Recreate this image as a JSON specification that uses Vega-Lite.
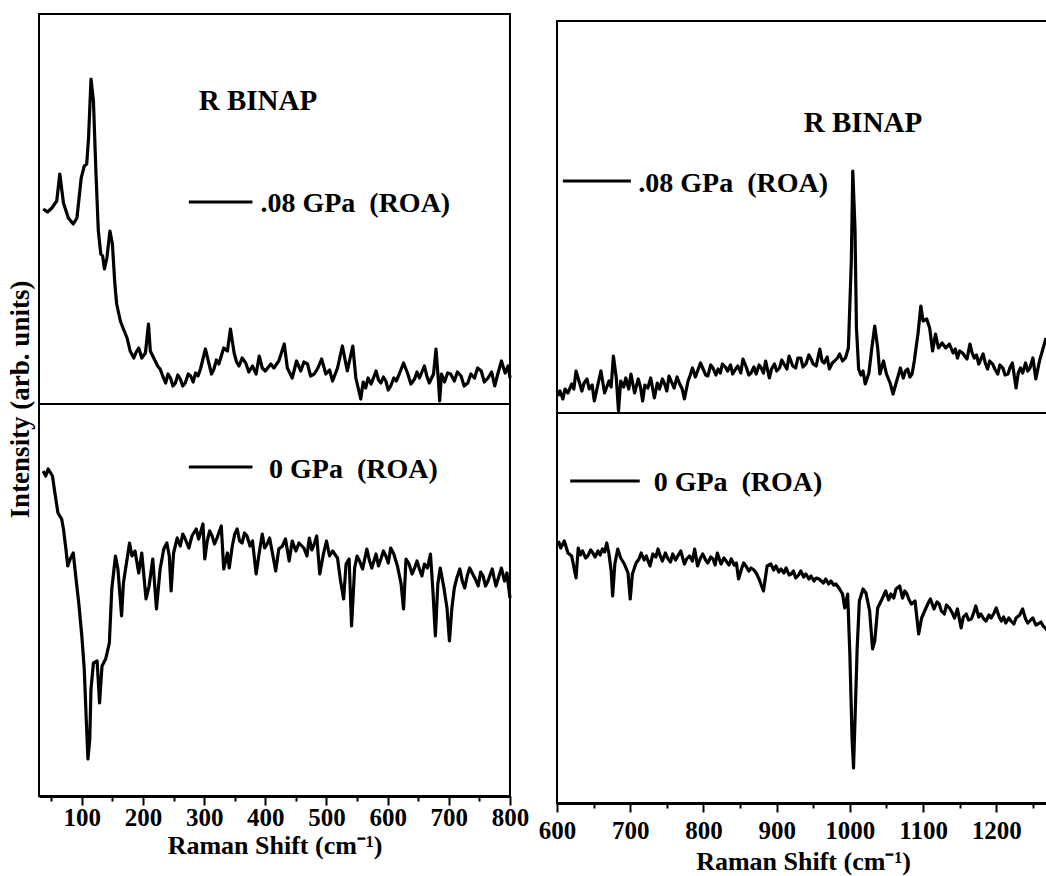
{
  "$schema": "https://vega.github.io/schema/vega-lite/v6.json",
  "background": "white",
  "padding": {"left": 5, "top": 13, "right": 0, "bottom": 0},
  "autosize": {"type": "pad"},
  "config": {"view": {"stroke": "black", "strokeWidth": 2}},
  "datasets": {
    "spectra": [
      {"p":"LT","x":37,"y":195},{"p":"LT","x":44,"y":192},{"p":"LT","x":51,"y":196},{"p":"LT","x":59,"y":203},{"p":"LT","x":64,"y":230},{"p":"LT","x":70,"y":201},{"p":"LT","x":78,"y":186},{"p":"LT","x":86,"y":180},{"p":"LT","x":92,"y":186},{"p":"LT","x":99,"y":226},{"p":"LT","x":104,"y":238},{"p":"LT","x":108,"y":240},{"p":"LT","x":111,"y":266},{"p":"LT","x":115,"y":325},{"p":"LT","x":119,"y":303},{"p":"LT","x":123,"y":233},{"p":"LT","x":127,"y":173},{"p":"LT","x":131,"y":150},{"p":"LT","x":134,"y":148},{"p":"LT","x":137,"y":135},{"p":"LT","x":141,"y":146},{"p":"LT","x":146,"y":173},{"p":"LT","x":150,"y":160},{"p":"LT","x":154,"y":120},{"p":"LT","x":157,"y":100},{"p":"LT","x":163,"y":83},{"p":"LT","x":168,"y":75},{"p":"LT","x":174,"y":66},{"p":"LT","x":179,"y":53},{"p":"LT","x":185,"y":46},{"p":"LT","x":189,"y":52},{"p":"LT","x":193,"y":56},{"p":"LT","x":198,"y":46},{"p":"LT","x":204,"y":51},{"p":"LT","x":209,"y":80},{"p":"LT","x":212,"y":53},{"p":"LT","x":216,"y":48},{"p":"LT","x":220,"y":43},{"p":"LT","x":224,"y":38},{"p":"LT","x":228,"y":35},{"p":"LT","x":233,"y":27},{"p":"LT","x":237,"y":21},{"p":"LT","x":241,"y":30},{"p":"LT","x":245,"y":26},{"p":"LT","x":249,"y":18},{"p":"LT","x":253,"y":21},{"p":"LT","x":257,"y":29},{"p":"LT","x":261,"y":25},{"p":"LT","x":265,"y":18},{"p":"LT","x":269,"y":21},{"p":"LT","x":274,"y":30},{"p":"LT","x":278,"y":28},{"p":"LT","x":282,"y":22},{"p":"LT","x":286,"y":31},{"p":"LT","x":290,"y":28},{"p":"LT","x":294,"y":35},{"p":"LT","x":302,"y":55},{"p":"LT","x":308,"y":40},{"p":"LT","x":312,"y":30},{"p":"LT","x":316,"y":35},{"p":"LT","x":320,"y":44},{"p":"LT","x":324,"y":40},{"p":"LT","x":332,"y":56},{"p":"LT","x":338,"y":53},{"p":"LT","x":343,"y":75},{"p":"LT","x":349,"y":51},{"p":"LT","x":353,"y":42},{"p":"LT","x":357,"y":38},{"p":"LT","x":362,"y":46},{"p":"LT","x":368,"y":41},{"p":"LT","x":373,"y":32},{"p":"LT","x":379,"y":38},{"p":"LT","x":385,"y":30},{"p":"LT","x":390,"y":48},{"p":"LT","x":395,"y":36},{"p":"LT","x":400,"y":33},{"p":"LT","x":409,"y":40},{"p":"LT","x":414,"y":36},{"p":"LT","x":422,"y":43},{"p":"LT","x":431,"y":60},{"p":"LT","x":436,"y":36},{"p":"LT","x":444,"y":26},{"p":"LT","x":451,"y":43},{"p":"LT","x":458,"y":33},{"p":"LT","x":463,"y":42},{"p":"LT","x":469,"y":40},{"p":"LT","x":474,"y":28},{"p":"LT","x":480,"y":30},{"p":"LT","x":486,"y":36},{"p":"LT","x":492,"y":45},{"p":"LT","x":499,"y":30},{"p":"LT","x":505,"y":34},{"p":"LT","x":510,"y":23},{"p":"LT","x":518,"y":36},{"p":"LT","x":526,"y":58},{"p":"LT","x":534,"y":33},{"p":"LT","x":543,"y":58},{"p":"LT","x":548,"y":26},{"p":"LT","x":556,"y":5},{"p":"LT","x":560,"y":22},{"p":"LT","x":564,"y":16},{"p":"LT","x":568,"y":26},{"p":"LT","x":573,"y":20},{"p":"LT","x":581,"y":33},{"p":"LT","x":585,"y":24},{"p":"LT","x":589,"y":21},{"p":"LT","x":593,"y":27},{"p":"LT","x":597,"y":23},{"p":"LT","x":601,"y":14},{"p":"LT","x":605,"y":18},{"p":"LT","x":610,"y":26},{"p":"LT","x":614,"y":23},{"p":"LT","x":619,"y":30},{"p":"LT","x":626,"y":41},{"p":"LT","x":633,"y":30},{"p":"LT","x":638,"y":20},{"p":"LT","x":644,"y":25},{"p":"LT","x":648,"y":32},{"p":"LT","x":652,"y":26},{"p":"LT","x":660,"y":38},{"p":"LT","x":664,"y":28},{"p":"LT","x":668,"y":21},{"p":"LT","x":675,"y":30},{"p":"LT","x":679,"y":55},{"p":"LT","x":683,"y":23},{"p":"LT","x":685,"y":3},{"p":"LT","x":688,"y":30},{"p":"LT","x":693,"y":22},{"p":"LT","x":698,"y":31},{"p":"LT","x":703,"y":30},{"p":"LT","x":709,"y":23},{"p":"LT","x":714,"y":32},{"p":"LT","x":720,"y":28},{"p":"LT","x":725,"y":18},{"p":"LT","x":731,"y":21},{"p":"LT","x":736,"y":30},{"p":"LT","x":742,"y":26},{"p":"LT","x":747,"y":36},{"p":"LT","x":753,"y":33},{"p":"LT","x":758,"y":22},{"p":"LT","x":764,"y":26},{"p":"LT","x":770,"y":32},{"p":"LT","x":775,"y":18},{"p":"LT","x":780,"y":30},{"p":"LT","x":786,"y":43},{"p":"LT","x":792,"y":31},{"p":"LT","x":797,"y":38},{"p":"LT","x":800,"y":26},

      {"p":"LB","x":37,"y":325},{"p":"LB","x":41,"y":320},{"p":"LB","x":45,"y":327},{"p":"LB","x":52,"y":320},{"p":"LB","x":56,"y":303},{"p":"LB","x":61,"y":283},{"p":"LB","x":67,"y":277},{"p":"LB","x":70,"y":267},{"p":"LB","x":74,"y":247},{"p":"LB","x":77,"y":230},{"p":"LB","x":81,"y":237},{"p":"LB","x":86,"y":243},{"p":"LB","x":90,"y":220},{"p":"LB","x":95,"y":193},{"p":"LB","x":100,"y":160},{"p":"LB","x":104,"y":127},{"p":"LB","x":107,"y":80},{"p":"LB","x":110,"y":37},{"p":"LB","x":113,"y":57},{"p":"LB","x":115,"y":107},{"p":"LB","x":119,"y":133},{"p":"LB","x":125,"y":135},{"p":"LB","x":129,"y":93},{"p":"LB","x":133,"y":130},{"p":"LB","x":139,"y":137},{"p":"LB","x":145,"y":153},{"p":"LB","x":149,"y":207},{"p":"LB","x":155,"y":240},{"p":"LB","x":159,"y":227},{"p":"LB","x":165,"y":180},{"p":"LB","x":168,"y":213},{"p":"LB","x":174,"y":237},{"p":"LB","x":178,"y":253},{"p":"LB","x":182,"y":240},{"p":"LB","x":187,"y":245},{"p":"LB","x":193,"y":223},{"p":"LB","x":198,"y":243},{"p":"LB","x":205,"y":197},{"p":"LB","x":210,"y":210},{"p":"LB","x":216,"y":237},{"p":"LB","x":222,"y":187},{"p":"LB","x":228,"y":227},{"p":"LB","x":234,"y":247},{"p":"LB","x":239,"y":253},{"p":"LB","x":243,"y":240},{"p":"LB","x":246,"y":205},{"p":"LB","x":250,"y":243},{"p":"LB","x":256,"y":258},{"p":"LB","x":261,"y":250},{"p":"LB","x":265,"y":262},{"p":"LB","x":269,"y":257},{"p":"LB","x":275,"y":248},{"p":"LB","x":280,"y":260},{"p":"LB","x":287,"y":267},{"p":"LB","x":291,"y":257},{"p":"LB","x":298,"y":272},{"p":"LB","x":301,"y":237},{"p":"LB","x":305,"y":255},{"p":"LB","x":309,"y":265},{"p":"LB","x":313,"y":260},{"p":"LB","x":317,"y":252},{"p":"LB","x":321,"y":258},{"p":"LB","x":328,"y":270},{"p":"LB","x":332,"y":227},{"p":"LB","x":338,"y":243},{"p":"LB","x":341,"y":228},{"p":"LB","x":346,"y":250},{"p":"LB","x":350,"y":262},{"p":"LB","x":354,"y":267},{"p":"LB","x":358,"y":255},{"p":"LB","x":362,"y":253},{"p":"LB","x":366,"y":263},{"p":"LB","x":370,"y":260},{"p":"LB","x":375,"y":250},{"p":"LB","x":379,"y":255},{"p":"LB","x":385,"y":222},{"p":"LB","x":390,"y":243},{"p":"LB","x":395,"y":262},{"p":"LB","x":399,"y":248},{"p":"LB","x":403,"y":252},{"p":"LB","x":407,"y":258},{"p":"LB","x":411,"y":245},{"p":"LB","x":417,"y":225},{"p":"LB","x":422,"y":247},{"p":"LB","x":428,"y":250},{"p":"LB","x":433,"y":257},{"p":"LB","x":439,"y":235},{"p":"LB","x":444,"y":255},{"p":"LB","x":450,"y":245},{"p":"LB","x":455,"y":253},{"p":"LB","x":463,"y":248},{"p":"LB","x":468,"y":240},{"p":"LB","x":472,"y":258},{"p":"LB","x":476,"y":246},{"p":"LB","x":480,"y":252},{"p":"LB","x":484,"y":260},{"p":"LB","x":489,"y":222},{"p":"LB","x":495,"y":242},{"p":"LB","x":500,"y":255},{"p":"LB","x":505,"y":240},{"p":"LB","x":510,"y":245},{"p":"LB","x":518,"y":238},{"p":"LB","x":523,"y":215},{"p":"LB","x":528,"y":197},{"p":"LB","x":532,"y":232},{"p":"LB","x":537,"y":237},{"p":"LB","x":541,"y":170},{"p":"LB","x":546,"y":228},{"p":"LB","x":550,"y":240},{"p":"LB","x":554,"y":235},{"p":"LB","x":559,"y":227},{"p":"LB","x":566,"y":247},{"p":"LB","x":570,"y":236},{"p":"LB","x":574,"y":228},{"p":"LB","x":581,"y":242},{"p":"LB","x":585,"y":230},{"p":"LB","x":589,"y":237},{"p":"LB","x":593,"y":245},{"p":"LB","x":597,"y":240},{"p":"LB","x":601,"y":233},{"p":"LB","x":605,"y":248},{"p":"LB","x":610,"y":242},{"p":"LB","x":616,"y":230},{"p":"LB","x":622,"y":212},{"p":"LB","x":626,"y":187},{"p":"LB","x":630,"y":237},{"p":"LB","x":635,"y":232},{"p":"LB","x":640,"y":222},{"p":"LB","x":644,"y":228},{"p":"LB","x":648,"y":235},{"p":"LB","x":652,"y":227},{"p":"LB","x":656,"y":220},{"p":"LB","x":660,"y":232},{"p":"LB","x":665,"y":228},{"p":"LB","x":670,"y":242},{"p":"LB","x":674,"y":205},{"p":"LB","x":678,"y":160},{"p":"LB","x":682,"y":212},{"p":"LB","x":686,"y":228},{"p":"LB","x":692,"y":208},{"p":"LB","x":697,"y":188},{"p":"LB","x":701,"y":155},{"p":"LB","x":705,"y":188},{"p":"LB","x":709,"y":208},{"p":"LB","x":713,"y":218},{"p":"LB","x":718,"y":227},{"p":"LB","x":722,"y":215},{"p":"LB","x":726,"y":208},{"p":"LB","x":730,"y":220},{"p":"LB","x":734,"y":228},{"p":"LB","x":739,"y":222},{"p":"LB","x":744,"y":216},{"p":"LB","x":748,"y":210},{"p":"LB","x":752,"y":224},{"p":"LB","x":756,"y":220},{"p":"LB","x":760,"y":210},{"p":"LB","x":764,"y":215},{"p":"LB","x":768,"y":222},{"p":"LB","x":771,"y":227},{"p":"LB","x":774,"y":218},{"p":"LB","x":777,"y":210},{"p":"LB","x":782,"y":220},{"p":"LB","x":786,"y":228},{"p":"LB","x":791,"y":215},{"p":"LB","x":795,"y":223},{"p":"LB","x":800,"y":198},

      {"p":"RT","x":601,"y":17},{"p":"RT","x":604,"y":22},{"p":"RT","x":608,"y":14},{"p":"RT","x":611,"y":24},{"p":"RT","x":615,"y":20},{"p":"RT","x":620,"y":29},{"p":"RT","x":623,"y":24},{"p":"RT","x":626,"y":42},{"p":"RT","x":630,"y":32},{"p":"RT","x":634,"y":22},{"p":"RT","x":637,"y":30},{"p":"RT","x":641,"y":34},{"p":"RT","x":644,"y":24},{"p":"RT","x":648,"y":28},{"p":"RT","x":651,"y":12},{"p":"RT","x":656,"y":29},{"p":"RT","x":660,"y":42},{"p":"RT","x":665,"y":20},{"p":"RT","x":671,"y":32},{"p":"RT","x":674,"y":26},{"p":"RT","x":677,"y":57},{"p":"RT","x":681,"y":35},{"p":"RT","x":684,"y":2},{"p":"RT","x":687,"y":32},{"p":"RT","x":691,"y":26},{"p":"RT","x":694,"y":35},{"p":"RT","x":698,"y":24},{"p":"RT","x":701,"y":39},{"p":"RT","x":706,"y":20},{"p":"RT","x":711,"y":34},{"p":"RT","x":714,"y":26},{"p":"RT","x":717,"y":12},{"p":"RT","x":720,"y":28},{"p":"RT","x":724,"y":25},{"p":"RT","x":728,"y":35},{"p":"RT","x":733,"y":15},{"p":"RT","x":737,"y":30},{"p":"RT","x":740,"y":24},{"p":"RT","x":744,"y":34},{"p":"RT","x":747,"y":29},{"p":"RT","x":750,"y":22},{"p":"RT","x":753,"y":37},{"p":"RT","x":757,"y":30},{"p":"RT","x":760,"y":25},{"p":"RT","x":764,"y":36},{"p":"RT","x":767,"y":30},{"p":"RT","x":771,"y":24},{"p":"RT","x":774,"y":14},{"p":"RT","x":779,"y":32},{"p":"RT","x":782,"y":38},{"p":"RT","x":785,"y":45},{"p":"RT","x":789,"y":36},{"p":"RT","x":792,"y":42},{"p":"RT","x":796,"y":50},{"p":"RT","x":799,"y":45},{"p":"RT","x":803,"y":38},{"p":"RT","x":806,"y":37},{"p":"RT","x":810,"y":48},{"p":"RT","x":813,"y":45},{"p":"RT","x":817,"y":38},{"p":"RT","x":820,"y":44},{"p":"RT","x":823,"y":40},{"p":"RT","x":826,"y":49},{"p":"RT","x":830,"y":46},{"p":"RT","x":833,"y":42},{"p":"RT","x":837,"y":48},{"p":"RT","x":840,"y":39},{"p":"RT","x":844,"y":44},{"p":"RT","x":847,"y":47},{"p":"RT","x":851,"y":40},{"p":"RT","x":854,"y":54},{"p":"RT","x":858,"y":47},{"p":"RT","x":862,"y":38},{"p":"RT","x":865,"y":40},{"p":"RT","x":869,"y":46},{"p":"RT","x":872,"y":39},{"p":"RT","x":876,"y":48},{"p":"RT","x":879,"y":45},{"p":"RT","x":882,"y":40},{"p":"RT","x":885,"y":52},{"p":"RT","x":890,"y":35},{"p":"RT","x":893,"y":44},{"p":"RT","x":897,"y":49},{"p":"RT","x":900,"y":42},{"p":"RT","x":904,"y":45},{"p":"RT","x":907,"y":53},{"p":"RT","x":910,"y":49},{"p":"RT","x":914,"y":44},{"p":"RT","x":917,"y":57},{"p":"RT","x":922,"y":47},{"p":"RT","x":926,"y":45},{"p":"RT","x":929,"y":55},{"p":"RT","x":933,"y":55},{"p":"RT","x":936,"y":46},{"p":"RT","x":940,"y":49},{"p":"RT","x":944,"y":58},{"p":"RT","x":947,"y":54},{"p":"RT","x":950,"y":49},{"p":"RT","x":954,"y":47},{"p":"RT","x":959,"y":64},{"p":"RT","x":962,"y":52},{"p":"RT","x":965,"y":50},{"p":"RT","x":969,"y":56},{"p":"RT","x":972,"y":44},{"p":"RT","x":976,"y":50},{"p":"RT","x":979,"y":52},{"p":"RT","x":983,"y":55},{"p":"RT","x":986,"y":59},{"p":"RT","x":990,"y":52},{"p":"RT","x":994,"y":55},{"p":"RT","x":998,"y":65},{"p":"RT","x":1002,"y":152},{"p":"RT","x":1004,"y":242},{"p":"RT","x":1007,"y":185},{"p":"RT","x":1009,"y":85},{"p":"RT","x":1012,"y":44},{"p":"RT","x":1015,"y":38},{"p":"RT","x":1018,"y":42},{"p":"RT","x":1021,"y":29},{"p":"RT","x":1026,"y":40},{"p":"RT","x":1030,"y":65},{"p":"RT","x":1034,"y":87},{"p":"RT","x":1038,"y":65},{"p":"RT","x":1041,"y":39},{"p":"RT","x":1046,"y":52},{"p":"RT","x":1050,"y":39},{"p":"RT","x":1055,"y":30},{"p":"RT","x":1059,"y":19},{"p":"RT","x":1064,"y":32},{"p":"RT","x":1069,"y":45},{"p":"RT","x":1073,"y":35},{"p":"RT","x":1076,"y":42},{"p":"RT","x":1079,"y":44},{"p":"RT","x":1082,"y":36},{"p":"RT","x":1085,"y":39},{"p":"RT","x":1088,"y":52},{"p":"RT","x":1093,"y":79},{"p":"RT","x":1097,"y":107},{"p":"RT","x":1100,"y":92},{"p":"RT","x":1105,"y":94},{"p":"RT","x":1109,"y":85},{"p":"RT","x":1113,"y":62},{"p":"RT","x":1117,"y":79},{"p":"RT","x":1121,"y":65},{"p":"RT","x":1126,"y":70},{"p":"RT","x":1131,"y":65},{"p":"RT","x":1136,"y":69},{"p":"RT","x":1141,"y":60},{"p":"RT","x":1144,"y":64},{"p":"RT","x":1147,"y":55},{"p":"RT","x":1150,"y":62},{"p":"RT","x":1154,"y":60},{"p":"RT","x":1160,"y":54},{"p":"RT","x":1164,"y":69},{"p":"RT","x":1167,"y":60},{"p":"RT","x":1170,"y":55},{"p":"RT","x":1173,"y":58},{"p":"RT","x":1176,"y":49},{"p":"RT","x":1179,"y":54},{"p":"RT","x":1182,"y":59},{"p":"RT","x":1185,"y":50},{"p":"RT","x":1188,"y":44},{"p":"RT","x":1191,"y":52},{"p":"RT","x":1195,"y":49},{"p":"RT","x":1198,"y":44},{"p":"RT","x":1202,"y":39},{"p":"RT","x":1205,"y":48},{"p":"RT","x":1209,"y":45},{"p":"RT","x":1212,"y":38},{"p":"RT","x":1216,"y":39},{"p":"RT","x":1219,"y":46},{"p":"RT","x":1222,"y":50},{"p":"RT","x":1227,"y":25},{"p":"RT","x":1230,"y":40},{"p":"RT","x":1233,"y":45},{"p":"RT","x":1236,"y":40},{"p":"RT","x":1240,"y":50},{"p":"RT","x":1243,"y":42},{"p":"RT","x":1246,"y":45},{"p":"RT","x":1250,"y":55},{"p":"RT","x":1254,"y":34},{"p":"RT","x":1259,"y":52},{"p":"RT","x":1264,"y":65},{"p":"RT","x":1268,"y":75},

      {"p":"RB","x":602,"y":262},{"p":"RB","x":605,"y":255},{"p":"RB","x":610,"y":262},{"p":"RB","x":615,"y":250},{"p":"RB","x":620,"y":247},{"p":"RB","x":626,"y":225},{"p":"RB","x":629,"y":255},{"p":"RB","x":632,"y":248},{"p":"RB","x":635,"y":252},{"p":"RB","x":639,"y":245},{"p":"RB","x":642,"y":247},{"p":"RB","x":646,"y":253},{"p":"RB","x":649,"y":250},{"p":"RB","x":652,"y":246},{"p":"RB","x":656,"y":252},{"p":"RB","x":659,"y":248},{"p":"RB","x":662,"y":254},{"p":"RB","x":665,"y":251},{"p":"RB","x":668,"y":260},{"p":"RB","x":671,"y":249},{"p":"RB","x":674,"y":232},{"p":"RB","x":676,"y":207},{"p":"RB","x":679,"y":239},{"p":"RB","x":683,"y":254},{"p":"RB","x":687,"y":245},{"p":"RB","x":692,"y":239},{"p":"RB","x":697,"y":230},{"p":"RB","x":700,"y":204},{"p":"RB","x":703,"y":229},{"p":"RB","x":708,"y":240},{"p":"RB","x":712,"y":244},{"p":"RB","x":715,"y":250},{"p":"RB","x":719,"y":243},{"p":"RB","x":722,"y":247},{"p":"RB","x":727,"y":237},{"p":"RB","x":731,"y":249},{"p":"RB","x":735,"y":246},{"p":"RB","x":738,"y":254},{"p":"RB","x":741,"y":247},{"p":"RB","x":744,"y":242},{"p":"RB","x":748,"y":250},{"p":"RB","x":751,"y":245},{"p":"RB","x":755,"y":241},{"p":"RB","x":758,"y":249},{"p":"RB","x":762,"y":243},{"p":"RB","x":765,"y":247},{"p":"RB","x":769,"y":252},{"p":"RB","x":774,"y":239},{"p":"RB","x":777,"y":244},{"p":"RB","x":781,"y":247},{"p":"RB","x":785,"y":242},{"p":"RB","x":788,"y":254},{"p":"RB","x":792,"y":237},{"p":"RB","x":796,"y":245},{"p":"RB","x":799,"y":249},{"p":"RB","x":803,"y":243},{"p":"RB","x":806,"y":240},{"p":"RB","x":810,"y":246},{"p":"RB","x":813,"y":244},{"p":"RB","x":816,"y":238},{"p":"RB","x":819,"y":250},{"p":"RB","x":824,"y":239},{"p":"RB","x":828,"y":245},{"p":"RB","x":831,"y":242},{"p":"RB","x":835,"y":238},{"p":"RB","x":838,"y":244},{"p":"RB","x":842,"y":238},{"p":"RB","x":845,"y":240},{"p":"RB","x":848,"y":224},{"p":"RB","x":852,"y":234},{"p":"RB","x":855,"y":240},{"p":"RB","x":858,"y":237},{"p":"RB","x":862,"y":232},{"p":"RB","x":865,"y":235},{"p":"RB","x":869,"y":233},{"p":"RB","x":872,"y":230},{"p":"RB","x":876,"y":224},{"p":"RB","x":882,"y":212},{"p":"RB","x":887,"y":237},{"p":"RB","x":892,"y":239},{"p":"RB","x":896,"y":233},{"p":"RB","x":899,"y":237},{"p":"RB","x":903,"y":231},{"p":"RB","x":906,"y":234},{"p":"RB","x":910,"y":230},{"p":"RB","x":913,"y":235},{"p":"RB","x":917,"y":228},{"p":"RB","x":920,"y":229},{"p":"RB","x":923,"y":232},{"p":"RB","x":926,"y":225},{"p":"RB","x":930,"y":228},{"p":"RB","x":933,"y":232},{"p":"RB","x":937,"y":226},{"p":"RB","x":940,"y":229},{"p":"RB","x":944,"y":224},{"p":"RB","x":947,"y":227},{"p":"RB","x":951,"y":222},{"p":"RB","x":954,"y":225},{"p":"RB","x":958,"y":224},{"p":"RB","x":961,"y":222},{"p":"RB","x":964,"y":220},{"p":"RB","x":967,"y":224},{"p":"RB","x":971,"y":219},{"p":"RB","x":974,"y":222},{"p":"RB","x":978,"y":218},{"p":"RB","x":981,"y":219},{"p":"RB","x":986,"y":214},{"p":"RB","x":990,"y":209},{"p":"RB","x":993,"y":195},{"p":"RB","x":997,"y":209},{"p":"RB","x":1000,"y":149},{"p":"RB","x":1003,"y":65},{"p":"RB","x":1005,"y":35},{"p":"RB","x":1007,"y":82},{"p":"RB","x":1010,"y":155},{"p":"RB","x":1013,"y":202},{"p":"RB","x":1018,"y":214},{"p":"RB","x":1022,"y":210},{"p":"RB","x":1027,"y":192},{"p":"RB","x":1031,"y":154},{"p":"RB","x":1034,"y":162},{"p":"RB","x":1038,"y":195},{"p":"RB","x":1044,"y":204},{"p":"RB","x":1049,"y":212},{"p":"RB","x":1053,"y":203},{"p":"RB","x":1056,"y":209},{"p":"RB","x":1060,"y":205},{"p":"RB","x":1063,"y":214},{"p":"RB","x":1068,"y":217},{"p":"RB","x":1072,"y":205},{"p":"RB","x":1075,"y":212},{"p":"RB","x":1078,"y":209},{"p":"RB","x":1081,"y":203},{"p":"RB","x":1084,"y":199},{"p":"RB","x":1089,"y":202},{"p":"RB","x":1094,"y":169},{"p":"RB","x":1098,"y":185},{"p":"RB","x":1101,"y":190},{"p":"RB","x":1104,"y":195},{"p":"RB","x":1107,"y":200},{"p":"RB","x":1110,"y":204},{"p":"RB","x":1115,"y":194},{"p":"RB","x":1119,"y":201},{"p":"RB","x":1122,"y":199},{"p":"RB","x":1125,"y":192},{"p":"RB","x":1129,"y":189},{"p":"RB","x":1132,"y":198},{"p":"RB","x":1136,"y":195},{"p":"RB","x":1140,"y":190},{"p":"RB","x":1143,"y":185},{"p":"RB","x":1147,"y":194},{"p":"RB","x":1152,"y":175},{"p":"RB","x":1155,"y":186},{"p":"RB","x":1159,"y":189},{"p":"RB","x":1162,"y":183},{"p":"RB","x":1166,"y":184},{"p":"RB","x":1169,"y":190},{"p":"RB","x":1172,"y":197},{"p":"RB","x":1176,"y":186},{"p":"RB","x":1179,"y":189},{"p":"RB","x":1183,"y":184},{"p":"RB","x":1186,"y":182},{"p":"RB","x":1190,"y":188},{"p":"RB","x":1193,"y":185},{"p":"RB","x":1197,"y":190},{"p":"RB","x":1200,"y":195},{"p":"RB","x":1204,"y":186},{"p":"RB","x":1207,"y":182},{"p":"RB","x":1210,"y":186},{"p":"RB","x":1213,"y":180},{"p":"RB","x":1217,"y":185},{"p":"RB","x":1220,"y":182},{"p":"RB","x":1224,"y":179},{"p":"RB","x":1227,"y":185},{"p":"RB","x":1232,"y":188},{"p":"RB","x":1236,"y":194},{"p":"RB","x":1240,"y":184},{"p":"RB","x":1243,"y":180},{"p":"RB","x":1247,"y":183},{"p":"RB","x":1250,"y":185},{"p":"RB","x":1254,"y":178},{"p":"RB","x":1257,"y":179},{"p":"RB","x":1261,"y":181},{"p":"RB","x":1264,"y":177},{"p":"RB","x":1267,"y":175},{"p":"RB","x":1270,"y":172}
    ],
    "keys": [
      {"p":"LT","x":275,"x2":379,"y":202},
      {"p":"LB","x":275,"x2":379,"y":329},
      {"p":"RT","x":608,"x2":701,"y":232},
      {"p":"RB","x":618,"x2":713,"y":322}
    ],
    "notes": [
      {"p":"LT","kind":"title","x":388,"y":303,"label":"R BINAP"},
      {"p":"LT","kind":"key","x":392,"y":200,"label":".08 GPa\u00a0 (ROA)"},
      {"p":"LB","kind":"key","x":406,"y":326,"label":"0 GPa\u00a0 (ROA)"},
      {"p":"RT","kind":"title","x":1018,"y":290,"label":"R BINAP"},
      {"p":"RT","kind":"key","x":711,"y":229,"label":".08 GPa\u00a0 (ROA)"},
      {"p":"RB","kind":"key","x":732,"y":320,"label":"0 GPa\u00a0 (ROA)"}
    ]
  },
  "spacing": 7,
  "bounds": "full",
  "hconcat": [
    {
      "bounds": "flush",
      "spacing": 0,
      "vconcat": [
        {
          "width": 471, "height": 390,
          "encoding": {
            "x": {"field": "x", "type": "quantitative", "scale": {"domain": [30, 800], "nice": false, "zero": false}, "axis": null},
            "y": {"field": "y", "type": "quantitative", "scale": {"domain": [0, 390], "nice": false, "zero": false},
                  "axis": {"title": "Intensity (arb. units)", "domain": false, "ticks": false, "labels": false, "grid": false,
                           "titleFont": "Liberation Serif", "titleFontWeight": "bold", "titleFontSize": 27, "titleColor": "black",
                           "titleY": 385, "titlePadding": 5}}
          },
          "layer": [
            {"data": {"name": "spectra"}, "transform": [{"filter": "datum.p === 'LT'"}],
             "mark": {"type": "line", "color": "black", "strokeWidth": 3.2, "strokeJoin": "round"}},
            {"data": {"name": "keys"}, "transform": [{"filter": "datum.p === 'LT'"}],
             "mark": {"type": "rule", "color": "black", "strokeWidth": 3}, "encoding": {"x2": {"field": "x2"}}},
            {"data": {"name": "notes"}, "transform": [{"filter": "datum.p === 'LT' && datum.kind === 'title'"}],
             "mark": {"type": "text", "align": "center", "baseline": "middle", "font": "Liberation Serif", "fontWeight": "bold", "fontSize": 29, "color": "black"},
             "encoding": {"text": {"field": "label"}}},
            {"data": {"name": "notes"}, "transform": [{"filter": "datum.p === 'LT' && datum.kind === 'key'"}],
             "mark": {"type": "text", "align": "left", "baseline": "middle", "font": "Liberation Serif", "fontWeight": "bold", "fontSize": 28, "color": "black"},
             "encoding": {"text": {"field": "label"}}}
          ]
        },
        {
          "width": 471, "height": 392,
          "encoding": {
            "x": {"field": "x", "type": "quantitative", "scale": {"domain": [30, 800], "nice": false, "zero": false},
                  "axis": {"values": [50,100,150,200,250,300,350,400,450,500,550,600,650,700,750,800],
                           "format": "d",
                           "labelExpr": "datum.value % 100 === 0 ? datum.label : ''",
                           "tickSize": {"condition": {"test": "datum.value % 100 === 0", "value": 9}, "value": 5},
                           "tickWidth": 2, "tickColor": "black", "domainColor": "black", "domainWidth": 3, "grid": false,
                           "labelFont": "Liberation Serif", "labelFontWeight": "bold", "labelFontSize": 25, "labelColor": "black",
                           "labelPadding": 0, "labelOverlap": false, "labelFlush": false,
                           "title": "Raman Shift (cm\u207b\u00b9)", "titleFont": "Liberation Serif", "titleFontWeight": "bold",
                           "titleFontSize": 26, "titleColor": "black", "titlePadding": 2}},
            "y": {"field": "y", "type": "quantitative", "scale": {"domain": [0, 392], "nice": false, "zero": false}, "axis": null}
          },
          "layer": [
            {"data": {"name": "spectra"}, "transform": [{"filter": "datum.p === 'LB'"}],
             "mark": {"type": "line", "color": "black", "strokeWidth": 3.2, "strokeJoin": "round"}},
            {"data": {"name": "keys"}, "transform": [{"filter": "datum.p === 'LB'"}],
             "mark": {"type": "rule", "color": "black", "strokeWidth": 3}, "encoding": {"x2": {"field": "x2"}}},
            {"data": {"name": "notes"}, "transform": [{"filter": "datum.p === 'LB' && datum.kind === 'key'"}],
             "mark": {"type": "text", "align": "left", "baseline": "middle", "font": "Liberation Serif", "fontWeight": "bold", "fontSize": 28, "color": "black"},
             "encoding": {"text": {"field": "label"}}}
          ]
        }
      ]
    },
    {
      "bounds": "flush",
      "spacing": 0,
      "vconcat": [
        {
          "width": 492, "height": 7,
          "view": {"stroke": null},
          "data": {"values": [{"x": 1}]},
          "mark": {"type": "point", "opacity": 0},
          "encoding": {"x": {"field": "x", "type": "quantitative", "axis": null}}
        },
        {
          "width": 492, "height": 392,
          "encoding": {
            "x": {"field": "x", "type": "quantitative", "scale": {"domain": [600, 1272], "nice": false, "zero": false}, "axis": null},
            "y": {"field": "y", "type": "quantitative", "scale": {"domain": [0, 392], "nice": false, "zero": false}, "axis": null}
          },
          "layer": [
            {"data": {"name": "spectra"}, "transform": [{"filter": "datum.p === 'RT'"}],
             "mark": {"type": "line", "color": "black", "strokeWidth": 3.2, "strokeJoin": "round"}},
            {"data": {"name": "keys"}, "transform": [{"filter": "datum.p === 'RT'"}],
             "mark": {"type": "rule", "color": "black", "strokeWidth": 3}, "encoding": {"x2": {"field": "x2"}}},
            {"data": {"name": "notes"}, "transform": [{"filter": "datum.p === 'RT' && datum.kind === 'title'"}],
             "mark": {"type": "text", "align": "center", "baseline": "middle", "font": "Liberation Serif", "fontWeight": "bold", "fontSize": 29, "color": "black"},
             "encoding": {"text": {"field": "label"}}},
            {"data": {"name": "notes"}, "transform": [{"filter": "datum.p === 'RT' && datum.kind === 'key'"}],
             "mark": {"type": "text", "align": "left", "baseline": "middle", "font": "Liberation Serif", "fontWeight": "bold", "fontSize": 28, "color": "black"},
             "encoding": {"text": {"field": "label"}}}
          ]
        },
        {
          "width": 492, "height": 390,
          "encoding": {
            "x": {"field": "x", "type": "quantitative", "scale": {"domain": [600, 1272], "nice": false, "zero": false},
                  "axis": {"values": [600,650,700,750,800,850,900,950,1000,1050,1100,1150,1200,1250],
                           "format": "d",
                           "labelExpr": "datum.value % 100 === 0 ? datum.label : ''",
                           "tickSize": {"condition": {"test": "datum.value % 100 === 0", "value": 9}, "value": 5},
                           "tickWidth": 2, "tickColor": "black", "domainColor": "black", "domainWidth": 3, "grid": false,
                           "labelFont": "Liberation Serif", "labelFontWeight": "bold", "labelFontSize": 25, "labelColor": "black",
                           "labelPadding": 6, "labelOverlap": false, "labelFlush": false,
                           "title": "Raman Shift (cm\u207b\u00b9)", "titleFont": "Liberation Serif", "titleFontWeight": "bold",
                           "titleFontSize": 26, "titleColor": "black", "titlePadding": 5}},
            "y": {"field": "y", "type": "quantitative", "scale": {"domain": [0, 390], "nice": false, "zero": false}, "axis": null}
          },
          "layer": [
            {"data": {"name": "spectra"}, "transform": [{"filter": "datum.p === 'RB'"}],
             "mark": {"type": "line", "color": "black", "strokeWidth": 3.2, "strokeJoin": "round"}},
            {"data": {"name": "keys"}, "transform": [{"filter": "datum.p === 'RB'"}],
             "mark": {"type": "rule", "color": "black", "strokeWidth": 3}, "encoding": {"x2": {"field": "x2"}}},
            {"data": {"name": "notes"}, "transform": [{"filter": "datum.p === 'RB' && datum.kind === 'key'"}],
             "mark": {"type": "text", "align": "left", "baseline": "middle", "font": "Liberation Serif", "fontWeight": "bold", "fontSize": 28, "color": "black"},
             "encoding": {"text": {"field": "label"}}}
          ]
        }
      ]
    }
  ]
}
